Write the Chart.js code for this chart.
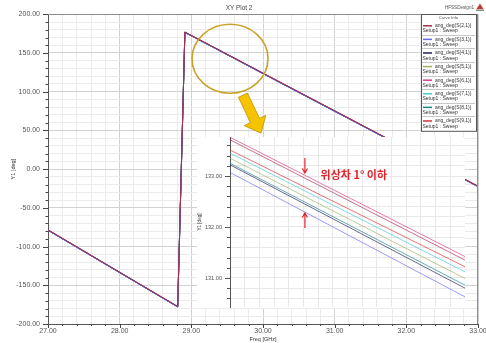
<!DOCTYPE html>
<html>
<head>
<meta charset="utf-8">
<script src="https://cdn.jsdelivr.net/npm/chart.js@4/dist/chart.umd.min.js"></script>
<style>
  html, body { margin: 0; padding: 0; background: #fff; }
  #wrap { position: relative; width: 486px; height: 343px; overflow: hidden; }
  #main { position: absolute; left: 0; top: 0; }
  #zoom { position: absolute; left: 197px; top: 137px; background: #fff; }
</style>
</head>
<body>
<div id="wrap">
  <canvas id="main" width="486" height="343"></canvas>
  <canvas id="zoom" width="268" height="171"></canvas>
</div>
<script>
// Sweep frequencies (GHz) and phase of each transmission term (deg), wrapped at ±180
const freq = [27.00, 28.81, 28.91, 29.80, 29.848, 33.00];
const s21 = [-78.40, -177.40, 177.10, 133.71, 131.35, -22.00];
const s31 = [-79.05, -178.05, 176.45, 133.07, 130.63, -22.65];
const s41 = [-78.89, -177.89, 176.61, 133.22, 130.80, -22.49];
const s51 = [-78.77, -177.77, 176.73, 133.35, 130.99, -22.37];
const s61 = [-78.35, -177.35, 177.15, 133.76, 131.42, -21.95];
const s71 = [-78.67, -177.67, 176.83, 133.45, 131.12, -22.27];
const s81 = [-78.87, -177.87, 176.63, 133.25, 130.86, -22.47];
const s91 = [-78.60, -177.60, 176.90, 133.51, 131.22, -22.20];

const seriesNames = ['ang_deg(S(2,1))', 'ang_deg(S(3,1))', 'ang_deg(S(4,1))', 'ang_deg(S(5,1))',
                     'ang_deg(S(6,1))', 'ang_deg(S(7,1))', 'ang_deg(S(8,1))', 'ang_deg(S(9,1))'];
const seriesValues = [s21, s31, s41, s51, s61, s71, s81, s91];
const seriesColors = ['#a0304c', '#6a6af0', '#1f1f5c', '#a8ae5c', '#d23a86', '#46c8d4', '#1f8585', '#d83232'];
const sweepName = 'Setup1 : Sweep';

// Axis tick labels
const xLabels = [27, 28, 29, 30, 31, 32, 33];
const yLabels = [-200, -150, -100, -50, 0, 50, 100, 150, 200];
const zoomLabels = [131, 132, 133];

// Annotation anchors, in data units
const focusRing = { freq: 29.54, deg: 142.6, rFreq: 0.53, rDeg: 44.5 };
const pointer = { fromFreq: 29.72, fromDeg: 95.5, toFreq: 29.972, toDeg: 46.5 };
const spreadNote = { text: '위상차 1° 이하', freq: 29.8185, deg: 133.02 };
const spreadArrows = { freq: 29.8153, topFrom: 133.353, topTo: 133.059, botFrom: 131.98, botTo: 132.275 };

const FONT = '"Liberation Sans", Arial, sans-serif';

function stepTicks(min, max, step, digits) {
  const out = [];
  const n = Math.round((max - min) / step);
  for (let i = 0; i <= n; i++) out.push({ value: Number((min + i * step).toFixed(digits)) });
  return out;
}

function withAlpha(hex, a) {
  const n = parseInt(hex.slice(1), 16);
  return `rgba(${(n >> 16) & 255},${(n >> 8) & 255},${n & 255},${a})`;
}

function makeDatasets(alpha) {
  return seriesNames.map((name, i) => ({
    label: name,
    data: freq.map((f, j) => ({ x: f, y: seriesValues[i][j] })),
    borderColor: withAlpha(seriesColors[i], alpha),
    backgroundColor: seriesColors[i],
    legendColor: seriesColors[i],
    borderWidth: 1,
    pointRadius: 0,
    fill: false,
    tension: 0
  }));
}

// Frame, tick marks, curve-info box and call-out shapes on the full-range plot
const mainDecor = {
  id: 'mainDecor',
  afterDatasetsDraw(chart) {
    const { ctx } = chart;
    const x = chart.scales.x, y = chart.scales.y;
    ctx.save();
    // focus ring
    const cx = x.getPixelForValue(focusRing.freq), cy = y.getPixelForValue(focusRing.deg);
    const rx = x.getPixelForValue(focusRing.freq + focusRing.rFreq) - cx;
    const ry = cy - y.getPixelForValue(focusRing.deg + focusRing.rDeg);
    ctx.beginPath();
    ctx.ellipse(cx, cy, rx, ry, 0, 0, Math.PI * 2);
    ctx.strokeStyle = '#c9a228';
    ctx.lineWidth = 1.6;
    ctx.stroke();
    // block arrow
    const S = { x: x.getPixelForValue(pointer.fromFreq), y: y.getPixelForValue(pointer.fromDeg) };
    const T = { x: x.getPixelForValue(pointer.toFreq), y: y.getPixelForValue(pointer.toDeg) };
    const L = Math.hypot(T.x - S.x, T.y - S.y);
    const ux = (T.x - S.x) / L, uy = (T.y - S.y) / L, nx = -uy, ny = ux;
    const headLen = 14, sh = 5, hh = 12;
    const H = { x: T.x - ux * headLen, y: T.y - uy * headLen };
    ctx.beginPath();
    ctx.moveTo(S.x + nx * sh, S.y + ny * sh);
    ctx.lineTo(H.x + nx * sh, H.y + ny * sh);
    ctx.lineTo(H.x + nx * hh, H.y + ny * hh);
    ctx.lineTo(T.x, T.y);
    ctx.lineTo(H.x - nx * hh, H.y - ny * hh);
    ctx.lineTo(H.x - nx * sh, H.y - ny * sh);
    ctx.lineTo(S.x - nx * sh, S.y - ny * sh);
    ctx.closePath();
    ctx.fillStyle = '#f6c300';
    ctx.fill();
    ctx.strokeStyle = '#c09000';
    ctx.lineWidth = 0.8;
    ctx.stroke();
    ctx.restore();
  },
  afterDraw(chart) {
    const { ctx, chartArea: ca } = chart;
    const x = chart.scales.x, y = chart.scales.y;
    ctx.save();
    // top and right frame
    ctx.strokeStyle = '#8c8c8c';
    ctx.lineWidth = 1;
    ctx.beginPath();
    ctx.moveTo(ca.left, Math.round(ca.top) + 0.5);
    ctx.lineTo(ca.right, Math.round(ca.top) + 0.5);
    ctx.moveTo(Math.round(ca.right) - 0.5, ca.top);
    ctx.lineTo(Math.round(ca.right) - 0.5, ca.bottom);
    ctx.stroke();
    // tick marks
    ctx.strokeStyle = '#444';
    ctx.beginPath();
    y.ticks.forEach(t => {
      const py = Math.round(y.getPixelForValue(t.value)) + 0.5;
      const len = yLabels.includes(t.value) ? 5 : 2.5;
      ctx.moveTo(ca.left - len, py);
      ctx.lineTo(ca.left, py);
    });
    x.ticks.forEach(t => {
      const px = Math.round(x.getPixelForValue(t.value)) + 0.5;
      const len = xLabels.includes(t.value) ? 4 : 2;
      ctx.moveTo(px, ca.bottom);
      ctx.lineTo(px, ca.bottom + len);
    });
    ctx.stroke();
    // design name and badge
    ctx.fillStyle = '#555';
    ctx.font = '4.6px ' + FONT;
    ctx.textAlign = 'right';
    ctx.textBaseline = 'middle';
    ctx.fillText('HFSSDesign1', 474, 8);
    ctx.fillStyle = '#c0392b';
    ctx.beginPath();
    ctx.moveTo(480, 3.5); ctx.lineTo(483.5, 9); ctx.lineTo(476.5, 9); ctx.closePath();
    ctx.fill();
    ctx.fillStyle = '#888';
    ctx.fillRect(476, 9.5, 8, 1.5);
    // curve info box
    const bw = 55, right = ca.right - 2, left = right - bw, top = ca.top;
    const rowH = 13.6, head = 7;
    const bh = head + rowH * chart.data.datasets.length + 1;
    ctx.fillStyle = '#fff';
    ctx.fillRect(left, top, bw, bh);
    ctx.strokeStyle = '#555';
    ctx.strokeRect(Math.round(left) + 0.5, Math.round(top) + 0.5, bw, bh);
    ctx.fillStyle = '#555';
    ctx.font = '4.2px ' + FONT;
    ctx.textAlign = 'center';
    ctx.fillText('Curve Info', left + bw / 2, top + 3.8);
    chart.data.datasets.forEach((ds, i) => {
      const rt = top + head + i * rowH;
      if (i > 0) {
        ctx.strokeStyle = '#c8c8c8';
        ctx.beginPath();
        ctx.moveTo(left + 1, Math.round(rt) + 0.5);
        ctx.lineTo(left + bw - 1, Math.round(rt) + 0.5);
        ctx.stroke();
      }
      ctx.strokeStyle = ds.legendColor;
      ctx.lineWidth = 1.5;
      ctx.beginPath();
      ctx.moveTo(left + 2, rt + 4.5);
      ctx.lineTo(left + 11, rt + 4.5);
      ctx.stroke();
      ctx.lineWidth = 1;
      ctx.fillStyle = '#333';
      ctx.font = '5px ' + FONT;
      ctx.textAlign = 'left';
      ctx.fillText(ds.label, left + 14, rt + 4.5);
      ctx.fillText(sweepName, left + 1.5, rt + 9.8);
    });
    ctx.restore();
  }
};

const mainChart = new Chart(document.getElementById('main'), {
  type: 'line',
  data: { datasets: makeDatasets(1) },
  options: {
    responsive: false,
    devicePixelRatio: 1,
    animation: false,
    events: [],
    layout: { padding: { left: 0, right: 8, top: 1, bottom: 0 } },
    plugins: {
      legend: { display: false },
      tooltip: { enabled: false },
      title: {
        display: true, text: 'XY Plot 2', color: '#444',
        font: { family: FONT, size: 6.4, weight: 'normal' },
        padding: { top: 3, bottom: 2.6 }
      }
    },
    scales: {
      x: {
        type: 'linear', min: 27, max: 33,
        afterBuildTicks: s => { s.ticks = stepTicks(27, 33, 0.2, 3); },
        afterFit: s => { s.height = 19; s.paddingLeft = 0; s.paddingRight = 0; },
        grid: {
          drawTicks: false,
          color: c => (c.tick && xLabels.includes(c.tick.value)) ? '#d2d2d2' : '#ebebeb',
          lineWidth: 1
        },
        border: { display: true, color: '#555', width: 1 },
        ticks: {
          autoSkip: false, maxRotation: 0, padding: 3, color: '#555',
          font: { family: FONT, size: 7 },
          callback: v => xLabels.includes(Number(v)) ? Number(v).toFixed(2) : ''
        },
        title: {
          display: true, text: 'Freq [GHz]', color: '#333',
          font: { family: FONT, size: 5.5 }, padding: { top: 0, bottom: 0.3 }
        }
      },
      y: {
        type: 'linear', min: -200, max: 200,
        afterBuildTicks: s => { s.ticks = stepTicks(-200, 200, 10, 2); },
        afterFit: s => { s.width = 48; s.paddingTop = 0; s.paddingBottom = 0; },
        grid: {
          drawTicks: false,
          color: c => (c.tick && yLabels.includes(c.tick.value)) ? '#d2d2d2' : '#ebebeb',
          lineWidth: 1
        },
        border: { display: true, color: '#555', width: 1 },
        ticks: {
          autoSkip: false, padding: 8, color: '#555',
          font: { family: FONT, size: 7 },
          callback: v => yLabels.includes(Number(v)) ? Number(v).toFixed(2) : ''
        },
        title: {
          display: true, text: 'Y1 [deg]', color: '#333',
          font: { family: FONT, size: 5.5 }, padding: { top: 9.7, bottom: 0 }
        }
      }
    }
  },
  plugins: [mainDecor]
});

// Tick marks and the spread call-out on the magnified view
const zoomDecor = {
  id: 'zoomDecor',
  afterDraw(chart) {
    const { ctx, chartArea: ca } = chart;
    const x = chart.scales.x, y = chart.scales.y;
    ctx.save();
    ctx.strokeStyle = '#555';
    ctx.lineWidth = 1;
    ctx.beginPath();
    y.ticks.forEach(t => {
      const py = Math.round(y.getPixelForValue(t.value)) + 0.5;
      const len = zoomLabels.includes(t.value) ? 5 : 3;
      ctx.moveTo(ca.left - len, py);
      ctx.lineTo(ca.left, py);
    });
    ctx.stroke();
    // red arrows
    const ax = x.getPixelForValue(spreadArrows.freq);
    const drawArrow = (fromDeg, toDeg) => {
      const y0 = y.getPixelForValue(fromDeg), y1 = y.getPixelForValue(toDeg);
      const dir = Math.sign(y1 - y0);
      ctx.beginPath();
      ctx.moveTo(ax, y0);
      ctx.lineTo(ax, y1);
      ctx.moveTo(ax - 2.6, y1 - dir * 4.5);
      ctx.lineTo(ax, y1);
      ctx.lineTo(ax + 2.6, y1 - dir * 4.5);
      ctx.stroke();
    };
    ctx.strokeStyle = '#e3242b';
    ctx.lineWidth = 1.2;
    drawArrow(spreadArrows.topFrom, spreadArrows.topTo);
    drawArrow(spreadArrows.botFrom, spreadArrows.botTo);
    ctx.fillStyle = '#e3242b';
    ctx.font = 'bold 11px "Noto Sans CJK KR", "Noto Sans", sans-serif';
    ctx.textAlign = 'left';
    ctx.textBaseline = 'middle';
    ctx.fillText(spreadNote.text, x.getPixelForValue(spreadNote.freq), y.getPixelForValue(spreadNote.deg));
    ctx.restore();
  }
};

const zoomChart = new Chart(document.getElementById('zoom'), {
  type: 'line',
  data: { datasets: makeDatasets(0.68) },
  options: {
    responsive: false,
    devicePixelRatio: 1,
    animation: false,
    events: [],
    layout: { padding: 0 },
    plugins: { legend: { display: false }, tooltip: { enabled: false } },
    scales: {
      x: {
        type: 'linear', min: 29.800, max: 29.848,
        afterBuildTicks: s => { s.ticks = stepTicks(29.800, 29.848, 0.003, 4); },
        afterFit: s => { s.height = 1; s.paddingLeft = 0; s.paddingRight = 0; },
        grid: { drawTicks: false, color: '#e8e8e8' },
        border: { display: false },
        ticks: { display: false }
      },
      y: {
        type: 'linear', min: 130.431, max: 133.765,
        afterBuildTicks: s => { s.ticks = stepTicks(130.6, 133.6, 0.2, 2); },
        afterFit: s => { s.width = 33; s.paddingTop = 0; s.paddingBottom = 0; },
        grid: { drawTicks: false, color: '#e8e8e8' },
        border: { display: true, color: '#555', width: 1 },
        ticks: {
          autoSkip: false, padding: 8, color: '#555',
          font: { family: FONT, size: 5.6 },
          callback: v => zoomLabels.includes(Number(v)) ? Number(v).toFixed(2) : ''
        },
        title: {
          display: true, text: 'Y1 [deg]', color: '#333',
          font: { family: FONT, size: 4.6 }, padding: { top: 0.3, bottom: 0 }
        }
      }
    }
  },
  plugins: [zoomDecor]
});
</script>
</body>
</html>
